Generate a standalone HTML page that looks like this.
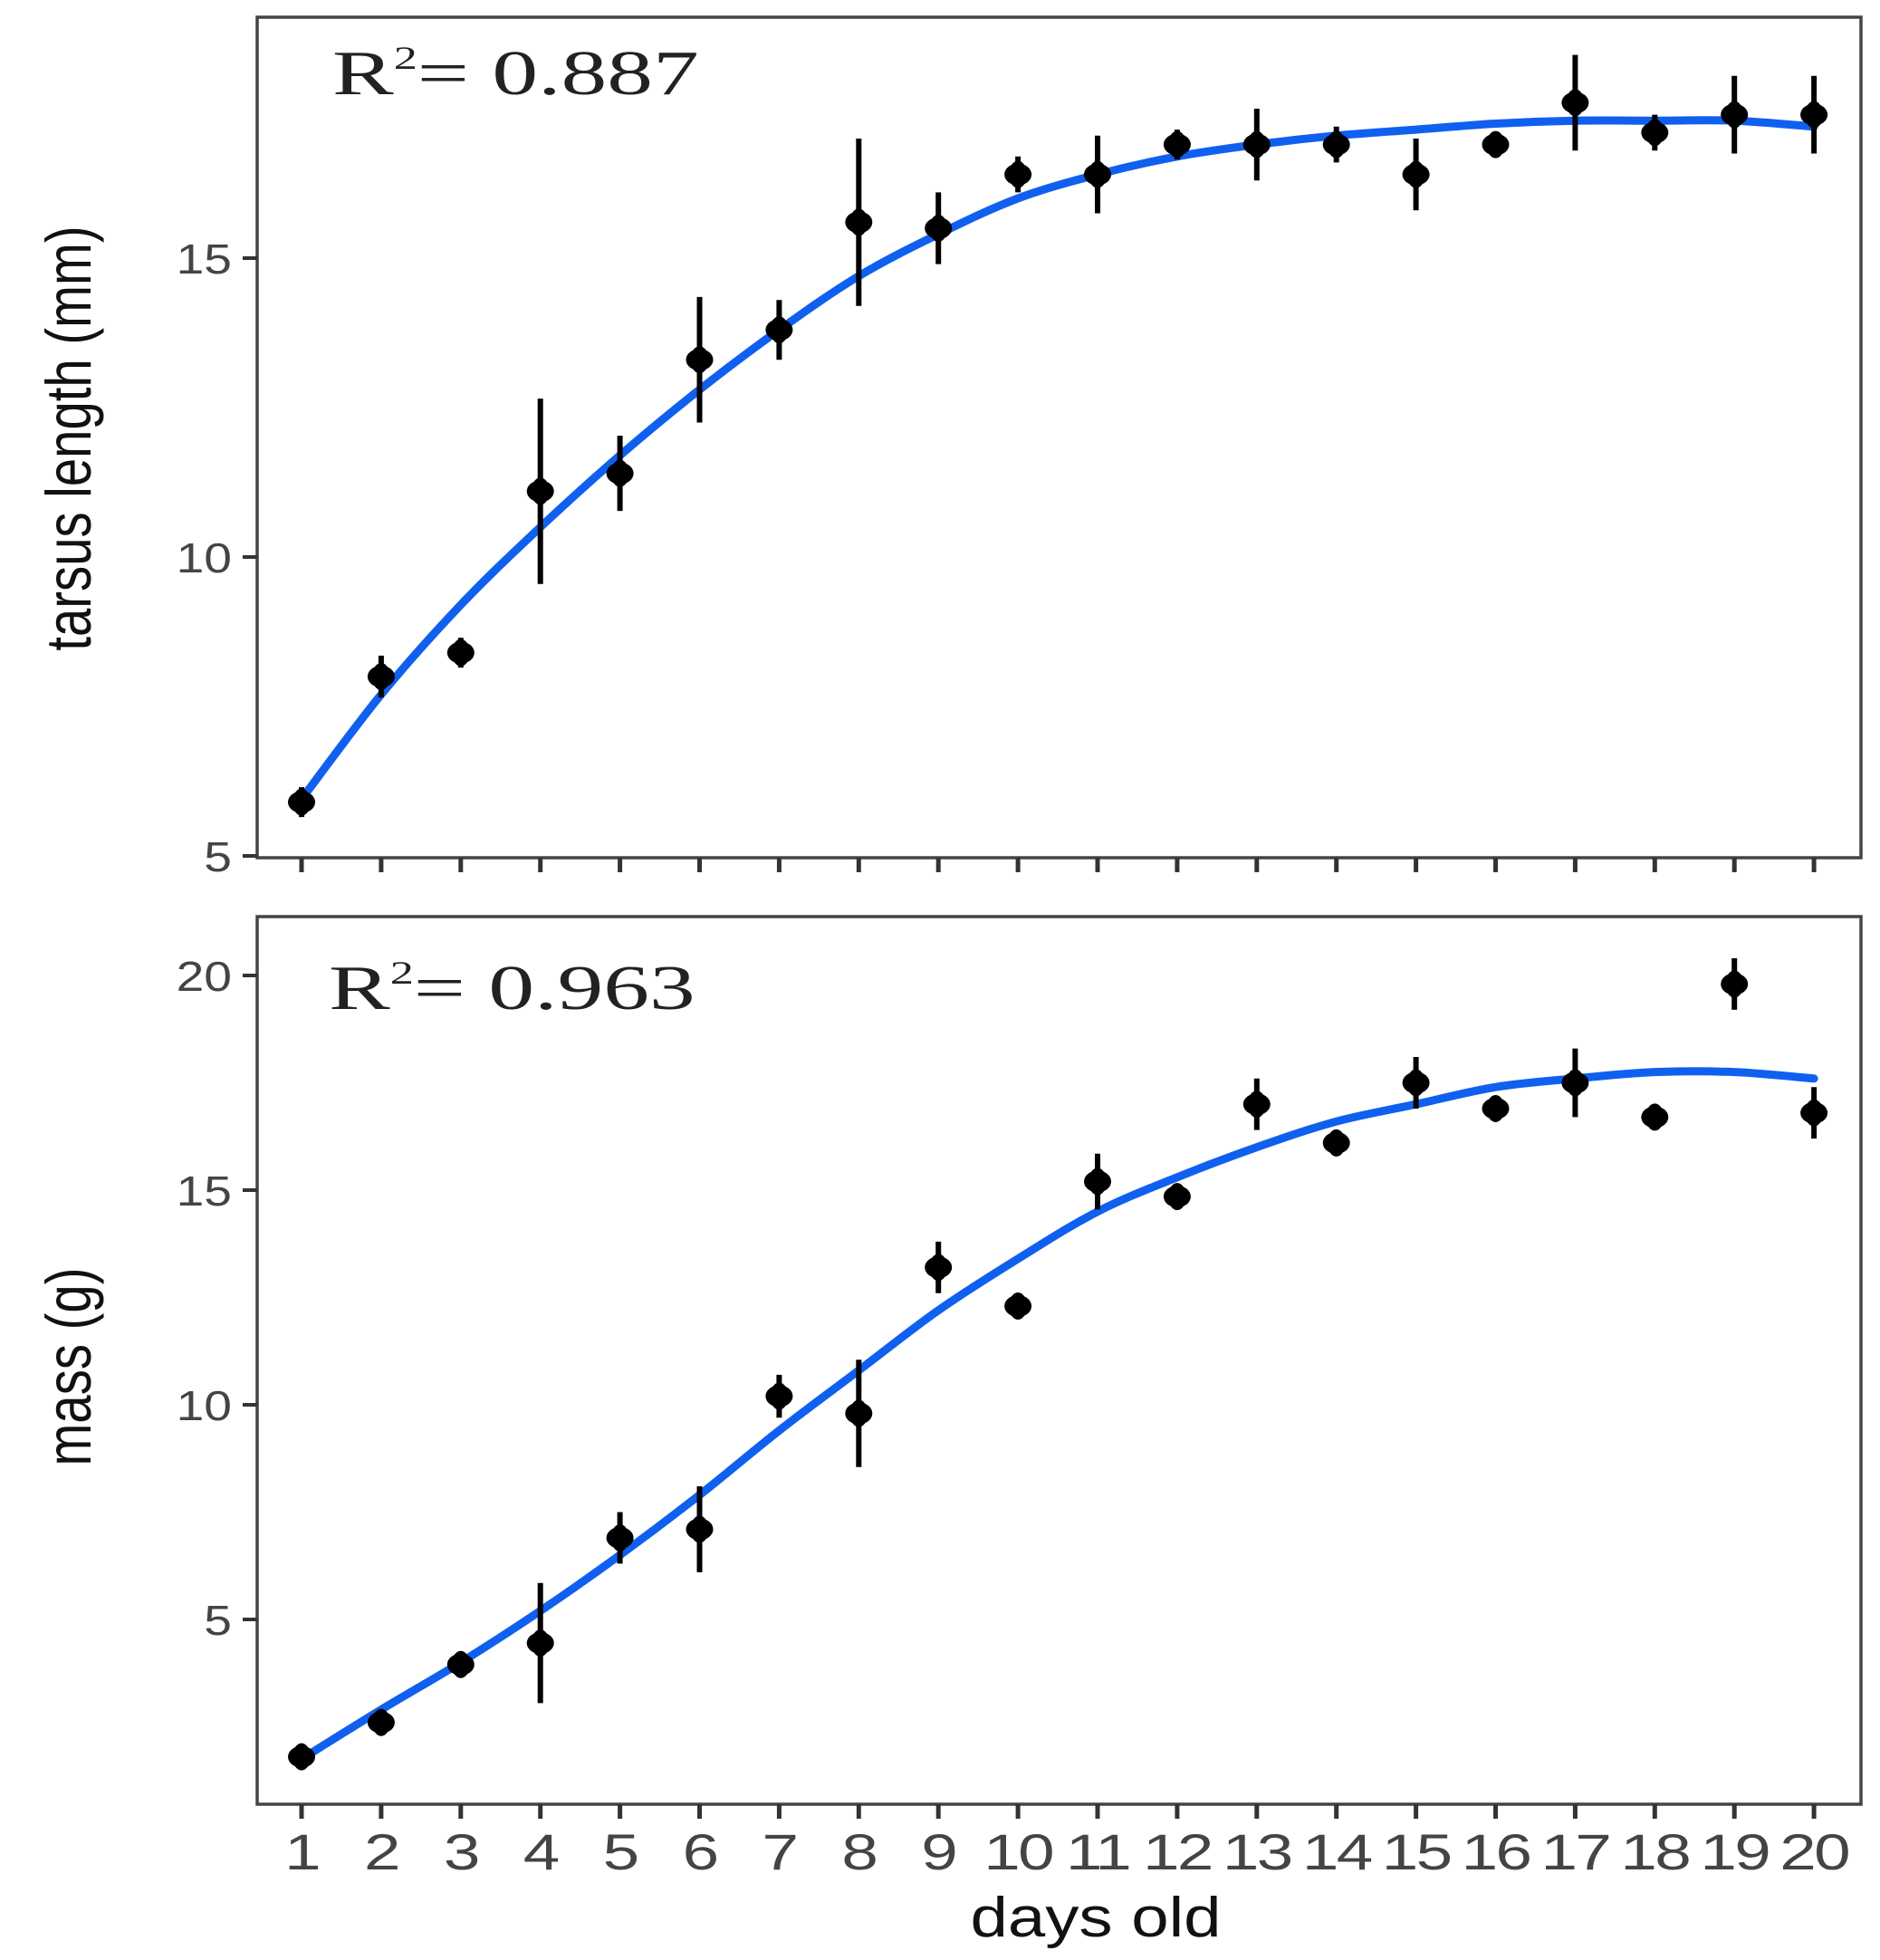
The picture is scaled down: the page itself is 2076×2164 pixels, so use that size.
<!DOCTYPE html>
<html><head><meta charset="utf-8"><style>
html,body{margin:0;padding:0;background:#fff;}
svg{display:block;}
</style></head><body>
<svg id="chart" width="2076" height="2164" viewBox="0 0 2076 2164" xmlns="http://www.w3.org/2000/svg" font-family="Liberation Sans, sans-serif">
<g id="top"></g>
<g id="bot"></g>
<text transform="translate(1210,2138) scale(1.2,1)" font-size="62" text-anchor="middle" fill="#111">days old</text>
<text transform="translate(100,484) rotate(-90) scale(0.88,1.1)" font-size="64" text-anchor="middle" fill="#111">tarsus length (mm)</text>
<text transform="translate(100,1509) rotate(-90) scale(0.88,1.1)" font-size="64" text-anchor="middle" fill="#111">mass (g)</text>
<text transform="translate(367,104) scale(1.45,1)" style="font-family:'Liberation Serif',serif" font-size="70" fill="#222">R<tspan font-size="36" dy="-28">2</tspan><tspan dy="28">= 0.887</tspan></text>
<text transform="translate(363,1114) scale(1.45,1)" style="font-family:'Liberation Serif',serif" font-size="70" fill="#222">R<tspan font-size="36" dy="-28">2</tspan><tspan dy="28">= 0.963</tspan></text>
</svg>
<script>
const days = [1,2,3,4,5,6,7,8,9,10,11,12,13,14,15,16,17,18,19,20];
const tarsusMean = [5.9,8.0,8.4,11.1,11.4,13.3,13.8,15.6,15.5,16.4,16.4,16.9,16.9,16.9,16.4,16.9,17.6,17.1,17.4,17.4];
const tarsusErr = [0.25,0.35,0.25,1.55,0.63,1.05,0.5,1.4,0.6,0.3,0.65,0.25,0.6,0.3,0.6,0.15,0.8,0.3,0.65,0.65];
const tarsusFit = [5.95,7.7,9.2,10.5,11.7,12.8,13.8,14.7,15.4,16.0,16.4,16.7,16.9,17.05,17.15,17.25,17.3,17.3,17.3,17.2];
const massMean = [1.8,2.6,3.95,4.45,6.9,7.1,10.2,9.8,13.2,12.3,15.2,14.85,17.0,16.1,17.5,16.9,17.5,16.7,19.8,16.8];
const massErr = [0.15,0.3,0.2,1.4,0.6,1.0,0.5,1.25,0.6,0.2,0.65,0.2,0.6,0.2,0.6,0.1,0.8,0.2,0.6,0.6];
const massFit = [1.75,2.9,4.0,5.2,6.5,7.9,9.4,10.8,12.2,13.4,14.5,15.3,16.0,16.6,17.0,17.4,17.6,17.75,17.75,17.6];
const tarsusTicks = [5,10,15];
const massTicks = [5,10,15,20];

const NS = "http://www.w3.org/2000/svg";
function mk(tag, attrs, parent){const e=document.createElementNS(NS,tag);for(const k in attrs)e.setAttribute(k,attrs[k]);parent.appendChild(e);return e;}
const xS = d => 333 + (d-1)*87.9;

function panel(g, top, bottom, yS, ticks, mean, err, fit, name, xlabels){
  const box = mk('rect',{x:284,y:top,width:1771,height:bottom-top,fill:'none',stroke:'#444','stroke-width':3.5},g);
  
  
  ticks.forEach(t=>{
    const y=yS(t);
    const l=mk('line',{x1:268,x2:284,y1:y,y2:y,stroke:'#333','stroke-width':4},g);
    
    
    const tx=mk('text',{transform:`translate(256,${y+17}) scale(1.2,1)`,'font-size':46,'text-anchor':'end',fill:'#444'},g);
    tx.textContent=t;
    
    
  });
  days.forEach(d=>{
    const x=xS(d);
    const l=mk('line',{x1:x,x2:x,y1:bottom,y2:bottom+16,stroke:'#333','stroke-width':5},g);
    
    
    if(xlabels){
      const tx=mk('text',{transform:`translate(${x},${bottom+72}) scale(1.3,1)`,'font-size':56,'text-anchor':'middle',fill:'#444','letter-spacing':'-2'},g);
      tx.textContent=d;
      
      
    }
  });
  const pts = days.map((d,i)=>[xS(d), yS(fit[i])]);
  let p = `M${pts[0][0]},${pts[0][1]}`;
  for(let i=0;i<pts.length-1;i++){
    const p0=pts[Math.max(i-1,0)],p1=pts[i],p2=pts[i+1],p3=pts[Math.min(i+2,pts.length-1)];
    const c1=[p1[0]+(p2[0]-p0[0])/6,p1[1]+(p2[1]-p0[1])/6];
    const c2=[p2[0]-(p3[0]-p1[0])/6,p2[1]-(p3[1]-p1[1])/6];
    p+=` C${c1[0]},${c1[1]} ${c2[0]},${c2[1]} ${p2[0]},${p2[1]}`;
  }
  const curve=mk('path',{d:p,fill:'none',stroke:'#1060f0','stroke-width':9,'stroke-linecap':'round'},g);
  
  
  days.forEach((d,i)=>{
    const x=xS(d);
    const eb=mk('line',{x1:x,x2:x,y1:yS(mean[i]-err[i]),y2:yS(mean[i]+err[i]),stroke:'#000','stroke-width':6},g);
    
    
    const c=mk('ellipse',{cx:x,cy:yS(mean[i]),rx:15,ry:12,fill:'#000'},g);
    
    
    const c2=mk('ellipse',{cx:x,cy:yS(mean[i]),rx:10,ry:15,fill:'#000'},g);
    
    
  });
}
const yT = v => 945 - (v-5)*66;
const yM = v => 1788 - (v-5)*47.4;
panel(document.getElementById('top'), 19, 947, yT, tarsusTicks, tarsusMean, tarsusErr, tarsusFit, 'tarsus', false);
panel(document.getElementById('bot'), 1012, 1992, yM, massTicks, massMean, massErr, massFit, 'mass', true);
</script>
</body></html>
